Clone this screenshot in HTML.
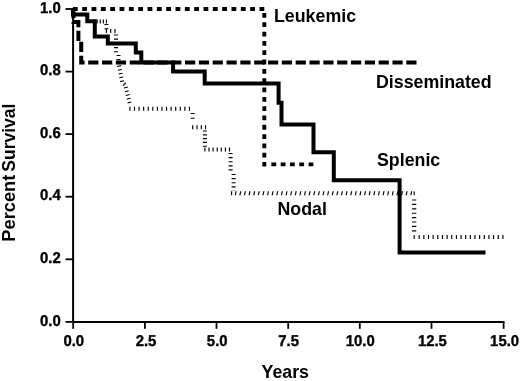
<!DOCTYPE html>
<html>
<head>
<meta charset="utf-8">
<title>Percent Survival by Years</title>
<style>
html,body{margin:0;padding:0;background:#fff;}
body{width:520px;height:381px;overflow:hidden;}
svg{display:block;}
text{font-family:"Liberation Sans",Arial,Helvetica,sans-serif;font-weight:bold;fill:#000;}
.tick{font-size:14.9px;text-rendering:geometricPrecision;stroke:#000;stroke-width:0.35px;}
.lab{font-size:17.8px;}
</style>
</head>
<body>
<svg width="520" height="381" viewBox="0 0 520 381">
<rect x="0" y="0" width="520" height="381" fill="#fff"/>

<!-- Nodal (fine hashed line) -->
<g fill="none" stroke="#000">
<path d="M96.62,21.5 H107.09" stroke-width="3.9" stroke-dasharray="1.15 1.92"/>
<path d="M105.83,31 H118.09" stroke-width="3.9" stroke-dasharray="1.15 3.15"/>
<path d="M129.33,108.8 H190.58" stroke-width="4.0" stroke-dasharray="1.15 3.43"/>
<path d="M192.12,127.2 H206.08" stroke-width="3.9" stroke-dasharray="1.15 3.15"/>
<path d="M204.33,149.5 H230.08" stroke-width="3.9" stroke-dasharray="1.15 2.95"/>
<g transform="translate(0,193.2) skewX(-12) translate(0,-193.2)">
<path d="M235.12,193.2 H411.84" stroke-width="4.0" stroke-dasharray="1.15 3.47"/>
</g>
<path d="M231.03,193.2 H232.28" stroke-width="3.9" stroke-dasharray="1.15 3.25"/>
<path d="M413.62,193.4 H414.88" stroke-width="3.9" stroke-dasharray="1.15 3.25"/>
<path d="M413.62,237.1 H414.88" stroke-width="4.0" stroke-dasharray="1.15 3.50"/>
<path d="M418.62,237.1 H503.58" stroke-width="4.0" stroke-dasharray="1.15 3.50"/>
<path d="M106.4,23.93 V30.59" stroke-width="4.0" stroke-dasharray="1.15 3.05"/>
<path d="M116,34.42 V54.59" stroke-width="4.0" stroke-dasharray="1.15 3.05"/>
<path d="M118.5,54.92 V62.59" stroke-width="4.0" stroke-dasharray="1.15 3.05"/>
<path d="M119,65.5 L122.2,82 L125.3,85.2 L130.3,105.5" stroke-width="4.0" stroke-dasharray="1.15 2.7"/>
<path d="M192.6,112.92 V119.59" stroke-width="4.0" stroke-dasharray="1.15 3.65"/>
<path d="M204.9,130.43 V147.58" stroke-width="4.0" stroke-dasharray="1.15 2.65"/>
<path d="M230.6,152.93 V171.08" stroke-width="4.0" stroke-dasharray="1.15 2.95"/>
<path d="M233.6,173.93 V190.58" stroke-width="4.0" stroke-dasharray="1.15 2.95"/>
<path d="M414.2,199.43 V231.58" stroke-width="4.2" stroke-dasharray="1.15 3.25"/>
</g>

<!-- Leukemic (square dots) -->
<g fill="none" stroke="#000" stroke-width="3.9">
<path d="M72.9,9 H264.4" stroke-dasharray="4.8 4.53"/>
<path d="M264.3,13 V166.4" stroke-dasharray="4.8 4.52"/>
<path d="M271.4,164.4 H313.4" stroke-dasharray="4.8 4.5"/>
</g>

<!-- Disseminated (dashed) -->
<path d="M416.5,62.5 H81.2 V41.5 H78.4 V22 H73.5 V9" fill="none" stroke="#000" stroke-width="4" stroke-dasharray="10.2 3.63"/>

<!-- Splenic (solid) -->
<path d="M73,9 V14.5 H87.3 V21.3 H94.8 V36.4 H107.8 V43.4 H135.8 V52.4 H141.3 V62.4 H173.1 V71.4 H204.7 V83.5 H278.6 V102.8 H281.5 V124.6 H313.5 V152.3 H333.8 V180.3 H399.6 V252.6 H485.5"
 fill="none" stroke="#000" stroke-width="4" stroke-linejoin="miter"/>

<!-- Axes -->
<g stroke="#000" stroke-width="2" fill="none">
<path d="M73.1,8 V322.9"/>
<path d="M72.1,321.9 H504.5"/>
</g>
<g stroke="#000" stroke-width="1.8" fill="none">
<path d="M65.5,9 H73"/>
<path d="M65.5,71.6 H73"/>
<path d="M65.5,134.1 H73"/>
<path d="M65.5,196.7 H73"/>
<path d="M65.5,259.3 H73"/>
<path d="M65.5,321.9 H73"/>
<path d="M73.2,322 V328.8"/>
<path d="M144.9,322 V328.8"/>
<path d="M216.5,322 V328.8"/>
<path d="M288.2,322 V328.8"/>
<path d="M359.8,322 V328.8"/>
<path d="M431.5,322 V328.8"/>
<path d="M503.6,322 V328.8"/>
</g>

<!-- Y tick labels -->
<g class="tick" text-anchor="end">
<text transform="translate(60.7,12.6) scale(1,1.05)">1.0</text>
<text transform="translate(60.7,75.2) scale(1,1.05)">0.8</text>
<text transform="translate(60.7,137.8) scale(1,1.05)">0.6</text>
<text transform="translate(60.7,200.4) scale(1,1.05)">0.4</text>
<text transform="translate(60.7,263.0) scale(1,1.05)">0.2</text>
<text transform="translate(60.7,325.9) scale(1,1.05)">0.0</text>
</g>
<!-- X tick labels -->
<g class="tick" text-anchor="middle">
<text transform="translate(73.8,345.5) scale(1,1.05)">0.0</text>
<text transform="translate(146,345.5) scale(1,1.05)">2.5</text>
<text transform="translate(217.2,345.5) scale(1,1.05)">5.0</text>
<text transform="translate(288.6,345.5) scale(1,1.05)">7.5</text>
<text transform="translate(360.2,345.5) scale(1,1.05)">10.0</text>
<text transform="translate(432.4,345.5) scale(1,1.05)">12.5</text>
<text transform="translate(504.6,345.5) scale(1,1.05)">15.0</text>
</g>

<!-- Labels -->
<g class="lab">
<text x="274" y="22.2">Leukemic</text>
<text x="376" y="87.6">Disseminated</text>
<text x="377" y="166.3">Splenic</text>
<text x="277.5" y="215">Nodal</text>
<text x="261.5" y="378.3">Years</text>
<text transform="translate(15.4,241.7) rotate(-90)"><tspan font-size="18.3">Percent</tspan><tspan font-size="17.55" dx="-2"> Survival</tspan></text>
</g>
</svg>
</body>
</html>
